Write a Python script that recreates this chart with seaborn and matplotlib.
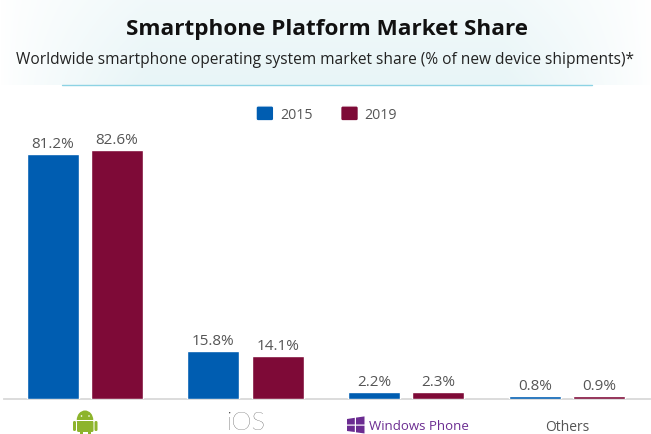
import numpy as np
import pandas as pd
import matplotlib.pyplot as plt
import seaborn as sns
from matplotlib.legend_handler import HandlerPatch
from matplotlib.patches import FancyBboxPatch, Rectangle, Ellipse, Polygon

# values
platforms = ["Android", "iOS", "Windows Phone", "Others"]
share_2015 = [81.2, 15.8, 2.2, 0.8]
share_2019 = [82.6, 14.1, 2.3, 0.9]
years = ["2015", "2019"]
year_colors = ["#005DB1", "#7E0A37"]

df = pd.DataFrame({
    "platform": platforms * 2,
    "year": [years[0]] * 4 + [years[1]] * 4,
    "share": share_2015 + share_2019,
})

W, H = 651, 435
sns.set_theme(style="white")
plt.rcParams["font.family"] = ["Open Sans", "DejaVu Sans"]

fig = plt.figure(figsize=(W / 100, H / 100), dpi=100)

# pixel helper for decoration: y counted from the top like in the image
def px(x, y):
    return x / W, 1 - y / H

# --- header gradient ---
bg = fig.add_axes([0, 1 - 86 / H, 1, 86 / H], zorder=0)
xs = np.linspace(-1, 1, 400)
fade = np.clip((1 - np.abs(xs)) / 0.45, 0, 1) ** 0.8
vert = np.linspace(0.6, 1, 60)
amount = np.outer(vert, fade)[:, :, None]
tint = np.array([232, 245, 247]) / 255
bg.imshow(1 - amount * (1 - tint), aspect="auto", origin="upper")
bg.axis("off")

fig.text(*px(327, 30), "Smartphone Platform Market Share", ha="center", va="center",
         fontsize=16.2, fontweight="bold", color="#111111")
fig.text(*px(325.5, 60), "Worldwide smartphone operating system market share (% of new device shipments)*",
         ha="center", va="center", fontsize=11.2, color="#222222")
fig.add_artist(plt.Line2D([62 / W, 592 / W], [1 - 86 / H] * 2, color="#8DD3E4", lw=1))

# --- bars ---
base = 399.5
top = 130
ax = fig.add_axes([4 / W, 1 - base / H, 646 / W, (base - top) / H], zorder=1)
ax.patch.set_alpha(0)
sns.barplot(data=df, x="platform", y="share", hue="year", order=platforms, hue_order=years,
            palette=year_colors, width=0.8, gap=0.19, saturation=1, ax=ax)
ax.set_xlim(-0.503, 3.517)
ax.set_ylim(0, (base - top) / 3.01)
for c in ax.containers:
    ax.bar_label(c, fmt="%.1f%%", padding=2, fontsize=11, color="#555555")

sns.despine(ax=ax, left=True)
ax.spines["bottom"].set_color("#D9D9D9")
ax.spines["bottom"].set_linewidth(1.3)
ax.spines["bottom"].set_zorder(0.5)
ax.set_xlabel("")
ax.set_ylabel("")
ax.set_yticks([])
ax.set_xticks(range(4))
ax.set_xticklabels([])
ax.tick_params(axis="x", length=0)

# --- legend with rounded swatches ---
def rounded(legend, orig_handle, xdescent, ydescent, width, height, fontsize):
    return FancyBboxPatch((-xdescent, -ydescent), width, height,
                          boxstyle="round,pad=0,rounding_size=1.5")

handles, labels = ax.get_legend_handles_labels()
fig.legend(handles, labels, loc="center", bbox_to_anchor=px(326.5, 115), ncol=2, frameon=False,
           fontsize=10.2, handlelength=1.25, handleheight=1.25, handletextpad=0.43,
           columnspacing=2.0, labelcolor="#555555",
           handler_map={Rectangle: HandlerPatch(patch_func=rounded)})
if ax.get_legend():
    ax.get_legend().remove()

# --- category labels (the originals are logos) ---
ax.annotate("iOS", xy=(1, 0), xycoords=("data", "axes fraction"), xytext=(0, -21.8), textcoords="offset points",
            ha="center", va="baseline", fontsize=18.5, color="#333333", family=["Lato", "DejaVu Sans"],
            fontweight="light", annotation_clip=False)
ax.annotate("Windows Phone", xy=(2, 0), xycoords=("data", "axes fraction"), xytext=(9.5, -14.5), textcoords="offset points",
            ha="center", va="top", fontsize=9.5, color="#6B2C91", annotation_clip=False)
ax.annotate("Others", xy=(3, 0), xycoords=("data", "axes fraction"), xytext=(0, -14.5), textcoords="offset points",
            ha="center", va="top", fontsize=10, color="#555555", annotation_clip=False)

# overlay in image pixels for the two logos
ov = fig.add_axes([0, 0, 1, 1], zorder=2)
ov.set_xlim(0, W)
ov.set_ylim(H, 0)
ov.axis("off")

green = "#8DB42C"
ov.add_patch(Ellipse((85, 421), 16.5, 19, color=green, lw=0))
ov.add_patch(Rectangle((70, 421), 30, 1.2, color="white", lw=0))
ov.add_patch(FancyBboxPatch((77, 422.2), 16.5, 10.8, boxstyle="round,pad=0,rounding_size=1.5", color=green, lw=0))
ov.add_patch(FancyBboxPatch((73, 422), 3, 10, boxstyle="round,pad=0,rounding_size=1.4", color=green, lw=0))
ov.add_patch(FancyBboxPatch((94.5, 422), 3, 10, boxstyle="round,pad=0,rounding_size=1.4", color=green, lw=0))
ov.add_patch(Rectangle((80, 432), 3, 3, color=green, lw=0))
ov.add_patch(Rectangle((87.5, 432), 3, 3, color=green, lw=0))
ov.add_patch(Ellipse((81.5, 417), 1.6, 1.6, color="white", lw=0))
ov.add_patch(Ellipse((89, 417), 1.6, 1.6, color="white", lw=0))

purple = "#6B2C91"
ov.add_patch(Polygon([(347, 420), (354.8, 418.8), (354.8, 425.5), (347, 425.5)], color=purple, lw=0))
ov.add_patch(Polygon([(356, 418.6), (364.5, 417.4), (364.5, 425.5), (356, 425.5)], color=purple, lw=0))
ov.add_patch(Polygon([(347, 426.7), (354.8, 426.7), (354.8, 433), (347, 432)], color=purple, lw=0))
ov.add_patch(Polygon([(356, 426.7), (364.5, 426.7), (364.5, 434.5), (356, 433.3)], color=purple, lw=0))

fig.savefig("out.png", dpi=100)
